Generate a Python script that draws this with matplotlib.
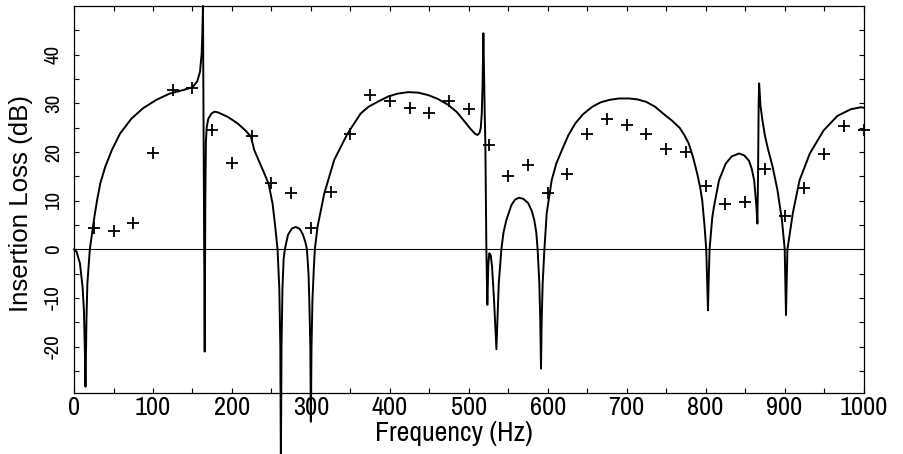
import numpy as np
import matplotlib
matplotlib.use("Agg")
import matplotlib.pyplot as plt
from matplotlib.ticker import FixedLocator

# measured points (+), every 25 Hz
freq_meas = [25, 50, 75, 100, 125, 150, 175, 200, 225, 250,
             275, 300, 325, 350, 375, 400, 425, 450, 475, 500,
             525, 550, 575, 600, 625, 650, 675, 700, 725, 750,
             775, 800, 825, 850, 875, 900, 925, 950, 975, 1000]
il_meas = [4.3, 3.8, 5.5, 19.7, 32.7, 33.2, 24.5, 17.8, 23.2, 13.7,
           11.6, 4.3, 11.8, 23.7, 31.8, 30.5, 29.1, 28.1, 30.5, 28.8,
           21.4, 15.1, 17.3, 11.5, 15.5, 23.8, 26.8, 25.5, 23.7, 20.6,
           20.1, 13.0, 9.3, 9.8, 16.6, 6.8, 12.7, 19.6, 25.3, 24.5]

# predicted curve (freq, dB)
curve = [
    (0, 0), (3.3, -0.5), (7.5, -2.9), (10.8, -7.7), (12.5, -12.5), (13.6, -20),
    (14.5, -28.2), (15.3, -20), (15.8, -13.8), (16.9, -7), (18.7, -2.9), (20, 0),
    (22.9, 3.3), (25.8, 6.7), (29.2, 10.1), (33.3, 13.6), (39.6, 17), (47.9, 20.4),
    (58.3, 23.8), (72.9, 26.9), (87.5, 29), (104, 30.7), (121, 32), (137.5, 32.7),
    (150, 33.3), (156, 34.5), (159.6, 36.5), (161.7, 40.3), (162.5, 44.4), (163.3, 50),
    (164.5, 10), (165.5, -21), (166.3, 10), (167, 22), (168, 25), (170, 26.8),
    (174, 27.9), (178, 28.3), (183, 28.1), (195, 27.2), (207, 25.9), (216, 24.6),
    (224, 23.2), (228.3, 20.4), (241, 15.6), (246.4, 13.5), (251.5, 9.4),
    (254.9, 4.6), (257.8, 0), (260, -8), (261.3, -20), (262, -45), (262.8, -20),
    (264, -8), (265.5, -2), (267, 0), (271, 3), (276, 4.3), (281, 4.6), (286, 4.2),
    (290, 3), (293, 1.5), (295, 0), (297, -5), (298, -10.4), (299.3, -20),
    (300, -35.4), (300.8, -20), (302, -10.4), (303.7, -4), (305, 0), (308.5, 4.7),
    (317, 11.5), (329.6, 18.4), (346.5, 23.8), (363, 27.9), (373, 29.3),
    (384.4, 30.3), (397.8, 31.4), (410, 32), (423.2, 32.3), (436, 32.2),
    (448.5, 31.7), (461, 30.9), (473.8, 29.7), (485, 28.2), (495, 26.2),
    (502, 24.8), (507.6, 23.8), (511, 23.5), (513.5, 23.9), (515.2, 24.9),
    (516.5, 28), (517.5, 34), (518.5, 44.4), (519.5, 34), (520.2, 28), (521, 21.8),
    (522.3, 0), (523.5, -11.4), (524.8, -3), (526, -0.8), (527.8, -1.2),
    (529.5, -3.6), (532, -10.4), (535, -20.5), (538, -7), (541.3, 0), (544, 3.5),
    (547.6, 6), (554, 9.1), (558.5, 10.2), (563.5, 10.6), (569, 10.4), (575.3, 9.5),
    (580, 7.8), (583, 6), (585.5, 3.5), (587.2, 0), (589.4, -7), (590.6, -15),
    (591.5, -24.5), (592.3, -15), (593.6, -7), (595.8, 0), (598.7, 7.4), (605, 14.2),
    (611, 17.7), (618, 20.4), (626, 23.4), (635, 25.9), (645, 27.8), (656.4, 29.3),
    (667, 30.2), (677.8, 30.7), (690, 31), (703.5, 31), (714, 30.8), (724.9, 30.3),
    (736, 29.3), (746.2, 27.9), (757, 26.5), (767, 25), (773, 23.5), (778.5, 21.8),
    (784, 19), (789.3, 15.6), (793, 12.8), (795.7, 10.1), (798.7, 4.7), (800.8, 0),
    (802, -7), (803, -12.5), (803.8, -7), (805, 0), (808.4, 6.5), (810.5, 8.7),
    (817, 14.2), (825.4, 17.6), (833, 19.1), (842.4, 19.7), (849, 19.3),
    (855, 18.2), (858.5, 16.5), (861.5, 14.2), (864.4, 8.7), (865.6, 5.3),
    (866.4, 15), (867.2, 30), (867.8, 34.1), (869.5, 29.5), (872, 26.5),
    (875, 23.5), (878.4, 21), (884.7, 17.1), (891, 12.2), (896.7, 6), (899, 2),
    (900.2, 0), (901, -7), (901.8, -13.5), (902.6, -7), (903.6, 0), (905.5, 2),
    (910.4, 7.4), (919, 14.2), (932, 19.7), (949.3, 24.4), (966.8, 27.4),
    (984, 28.8), (997, 29.2), (1000, 29.1),
]
curve_freq = [p[0] for p in curve]
curve_db = [p[1] for p in curve]

x_labels = [0, 100, 200, 300, 400, 500, 600, 700, 800, 900, 1000]
y_labels = [-20, -10, 0, 10, 20, 30, 40]

narrow = ["Archivo Narrow", "Liberation Sans"]

fig = plt.figure(figsize=(9.04, 4.54), dpi=100)
ax = fig.add_axes([0.0819, 0.1344, 0.8733, 0.8524])

ax.axhline(0, color="black", lw=0.8)
ax.plot(curve_freq, curve_db, color="black", lw=1.4, clip_on=False, zorder=3)
ax.plot(freq_meas, il_meas, ls="none", marker="+", ms=8, mew=1.3,
        color="black", clip_on=False, zorder=4)

ax.set_xlim(0, 1000)
ax.set_ylim(-29.5, 50)

ax.xaxis.set_major_locator(FixedLocator(x_labels))
ax.xaxis.set_minor_locator(FixedLocator(np.arange(50, 1000, 100)))
ax.yaxis.set_major_locator(FixedLocator(y_labels))
ax.yaxis.set_minor_locator(FixedLocator(np.arange(-25, 50, 10)))
ax.set_xticklabels([str(v) for v in x_labels], family=narrow, fontsize=19)
ax.set_yticklabels([str(v) for v in y_labels], family=narrow, fontsize=15,
                   rotation=90, va="center")

ax.tick_params(which="both", direction="in", length=3.4, width=0.8,
               top=True, right=True)
ax.tick_params(axis="x", pad=2)
ax.tick_params(axis="y", pad=8)

for s in ax.spines.values():
    s.set_linewidth(0.9)

xl = fig.text(0.5017, 0.045, "Frequency (Hz)", ha="center", va="center",
              family=narrow, fontsize=20)
yl = fig.text(0.023, 0.552, "Insertion Loss (dB)", ha="center", va="center",
              rotation=90, family=["Liberation Sans"], fontsize=18)

# scale the axis titles so their length matches the original (px)
r = fig.canvas.get_renderer()
w = xl.get_window_extent(r).width
xl.set_fontsize(20 * 158 / w)
h = yl.get_window_extent(r).height
yl.set_fontsize(18 * 217 / h)

fig.savefig("out.png", dpi=100)
